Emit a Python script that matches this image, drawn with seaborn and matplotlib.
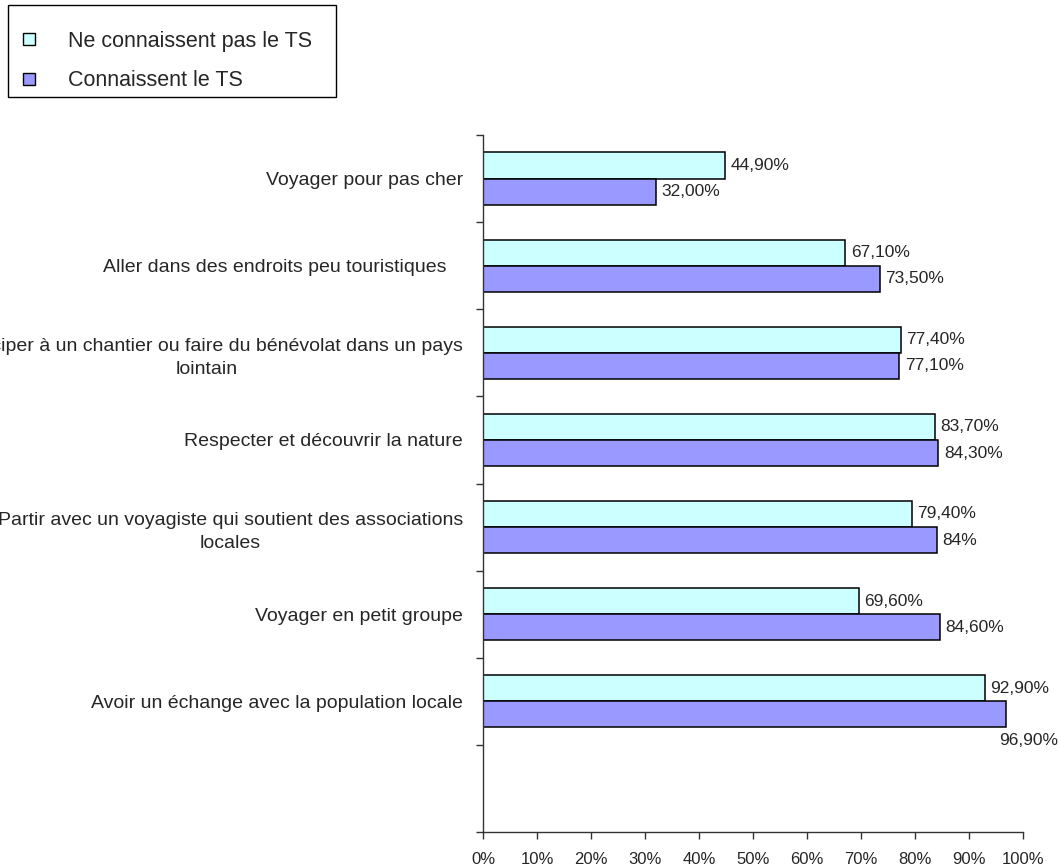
import matplotlib
matplotlib.use('Agg')
import matplotlib.pyplot as plt
from matplotlib.lines import Line2D
from matplotlib.patches import Rectangle
import seaborn as sns
import pandas as pd
import numpy as np

# data
categories = [
    "Voyager pour pas cher",
    "Aller dans des endroits peu touristiques   ",
    "Participer à un chantier ou faire du bénévolat dans un pays\nlointain",
    "Respecter et découvrir la nature",
    "Partir avec un voyagiste qui soutient des associations\nlocales",
    "Voyager en petit groupe",
    "Avoir un échange avec la population locale",
]
series_names = ["Ne connaissent pas le TS", "Connaissent le TS"]
not_known = [44.9, 67.1, 77.4, 83.7, 79.4, 69.6, 92.9]
known = [32.0, 73.5, 77.1, 84.3, 84.0, 84.6, 96.9]
not_known_labels = ["44,90%", "67,10%", "77,40%", "83,70%", "79,40%", "69,60%", "92,90%"]
known_labels = ["32,00%", "73,50%", "77,10%", "84,30%", "84%", "84,60%", "96,90%"]
x_ticks = [0, 10, 20, 30, 40, 50, 60, 70, 80, 90, 100]
x_tick_labels = [f"{t}%" for t in x_ticks]

colors = ["#CCFFFF", "#9999FF"]

df = pd.DataFrame({
    "cat": categories * 2,
    "val": not_known + known,
    "serie": [series_names[0]] * len(categories) + [series_names[1]] * len(categories),
})

sns.set_style("white")
plt.rcParams['font.family'] = ['Liberation Sans', 'DejaVu Sans']
plt.rcParams['font.size'] = 12

fig = plt.figure(figsize=(10.58, 8.66), dpi=100)
W, H = 1058, 866
ax = fig.add_axes([483 / W, 1 - 832 / H, 540 / W, (832 - 135) / H])

sns.barplot(data=df, y="cat", x="val", hue="serie", order=categories,
            hue_order=series_names, palette=colors, width=0.6, orient='h',
            edgecolor='black', linewidth=1.1, saturation=1, legend=False, ax=ax)

# 8 slots: 7 groups + empty one at the bottom
ax.set_ylim(len(categories) + 0.5, -0.5)
ax.set_xlim(0, 100)

# tick marks at slot boundaries, labels at centres
ax.set_yticks(np.arange(-0.5, len(categories) + 1, 1))
ax.set_yticklabels([])
ax.set_yticks(np.arange(len(categories)), minor=True)
ax.set_yticklabels(categories, minor=True, fontsize=14)
for lab in ax.get_yticklabels(minor=True):
    lab.set_multialignment('center')
    lab.set_linespacing(1.45)
ax.tick_params(axis='y', which='minor', length=0, pad=14.4)
ax.tick_params(axis='y', which='major', length=5, width=1, direction='out', left=True, color='#333333')

ax.set_xticks(x_ticks)
ax.set_xticklabels(x_tick_labels, fontsize=12)
ax.tick_params(axis='x', which='major', length=5, width=1, direction='out', bottom=True, pad=9.5, color='#333333')

ax.set_xlabel("")
ax.set_ylabel("")
sns.despine(ax=ax, top=True, right=True)
for sp in ['left', 'bottom']:
    ax.spines[sp].set_color('#333333')
    ax.spines[sp].set_linewidth(1)

# value labels
for i in range(len(categories)):
    ax.annotate(not_known_labels[i], (not_known[i], i - 0.15), xytext=(4, 0),
                textcoords='offset points', ha='left', va='center', fontsize=12.5)
    if known[i] > 95:
        ax.annotate(known_labels[i], (known[i], i + 0.3), xytext=(-5, -4),
                    textcoords='offset points', ha='left', va='top', fontsize=12.5,
                    annotation_clip=False)
    else:
        ax.annotate(known_labels[i], (known[i], i + 0.15), xytext=(4, 0),
                    textcoords='offset points', ha='left', va='center', fontsize=12.5)

# legend with square frame
handles = [Line2D([], [], marker='s', linestyle='none', markersize=8,
                  markerfacecolor=c, markeredgecolor='black', markeredgewidth=1)
           for c in colors]
fig.legend(handles, series_names, loc='upper left',
           bbox_to_anchor=(18.25 / W, 1 - 30.5 / H), frameon=False, borderpad=0,
           borderaxespad=0, handlelength=1.0, handletextpad=1.3,
           labelspacing=0.88, fontsize=15.5)
fig.patches.append(Rectangle((8 / W, 1 - 97 / H), 328 / W, 92 / H,
                             transform=fig.transFigure, fill=False,
                             edgecolor='black', linewidth=1))

fig.savefig("out.png", dpi=100)
